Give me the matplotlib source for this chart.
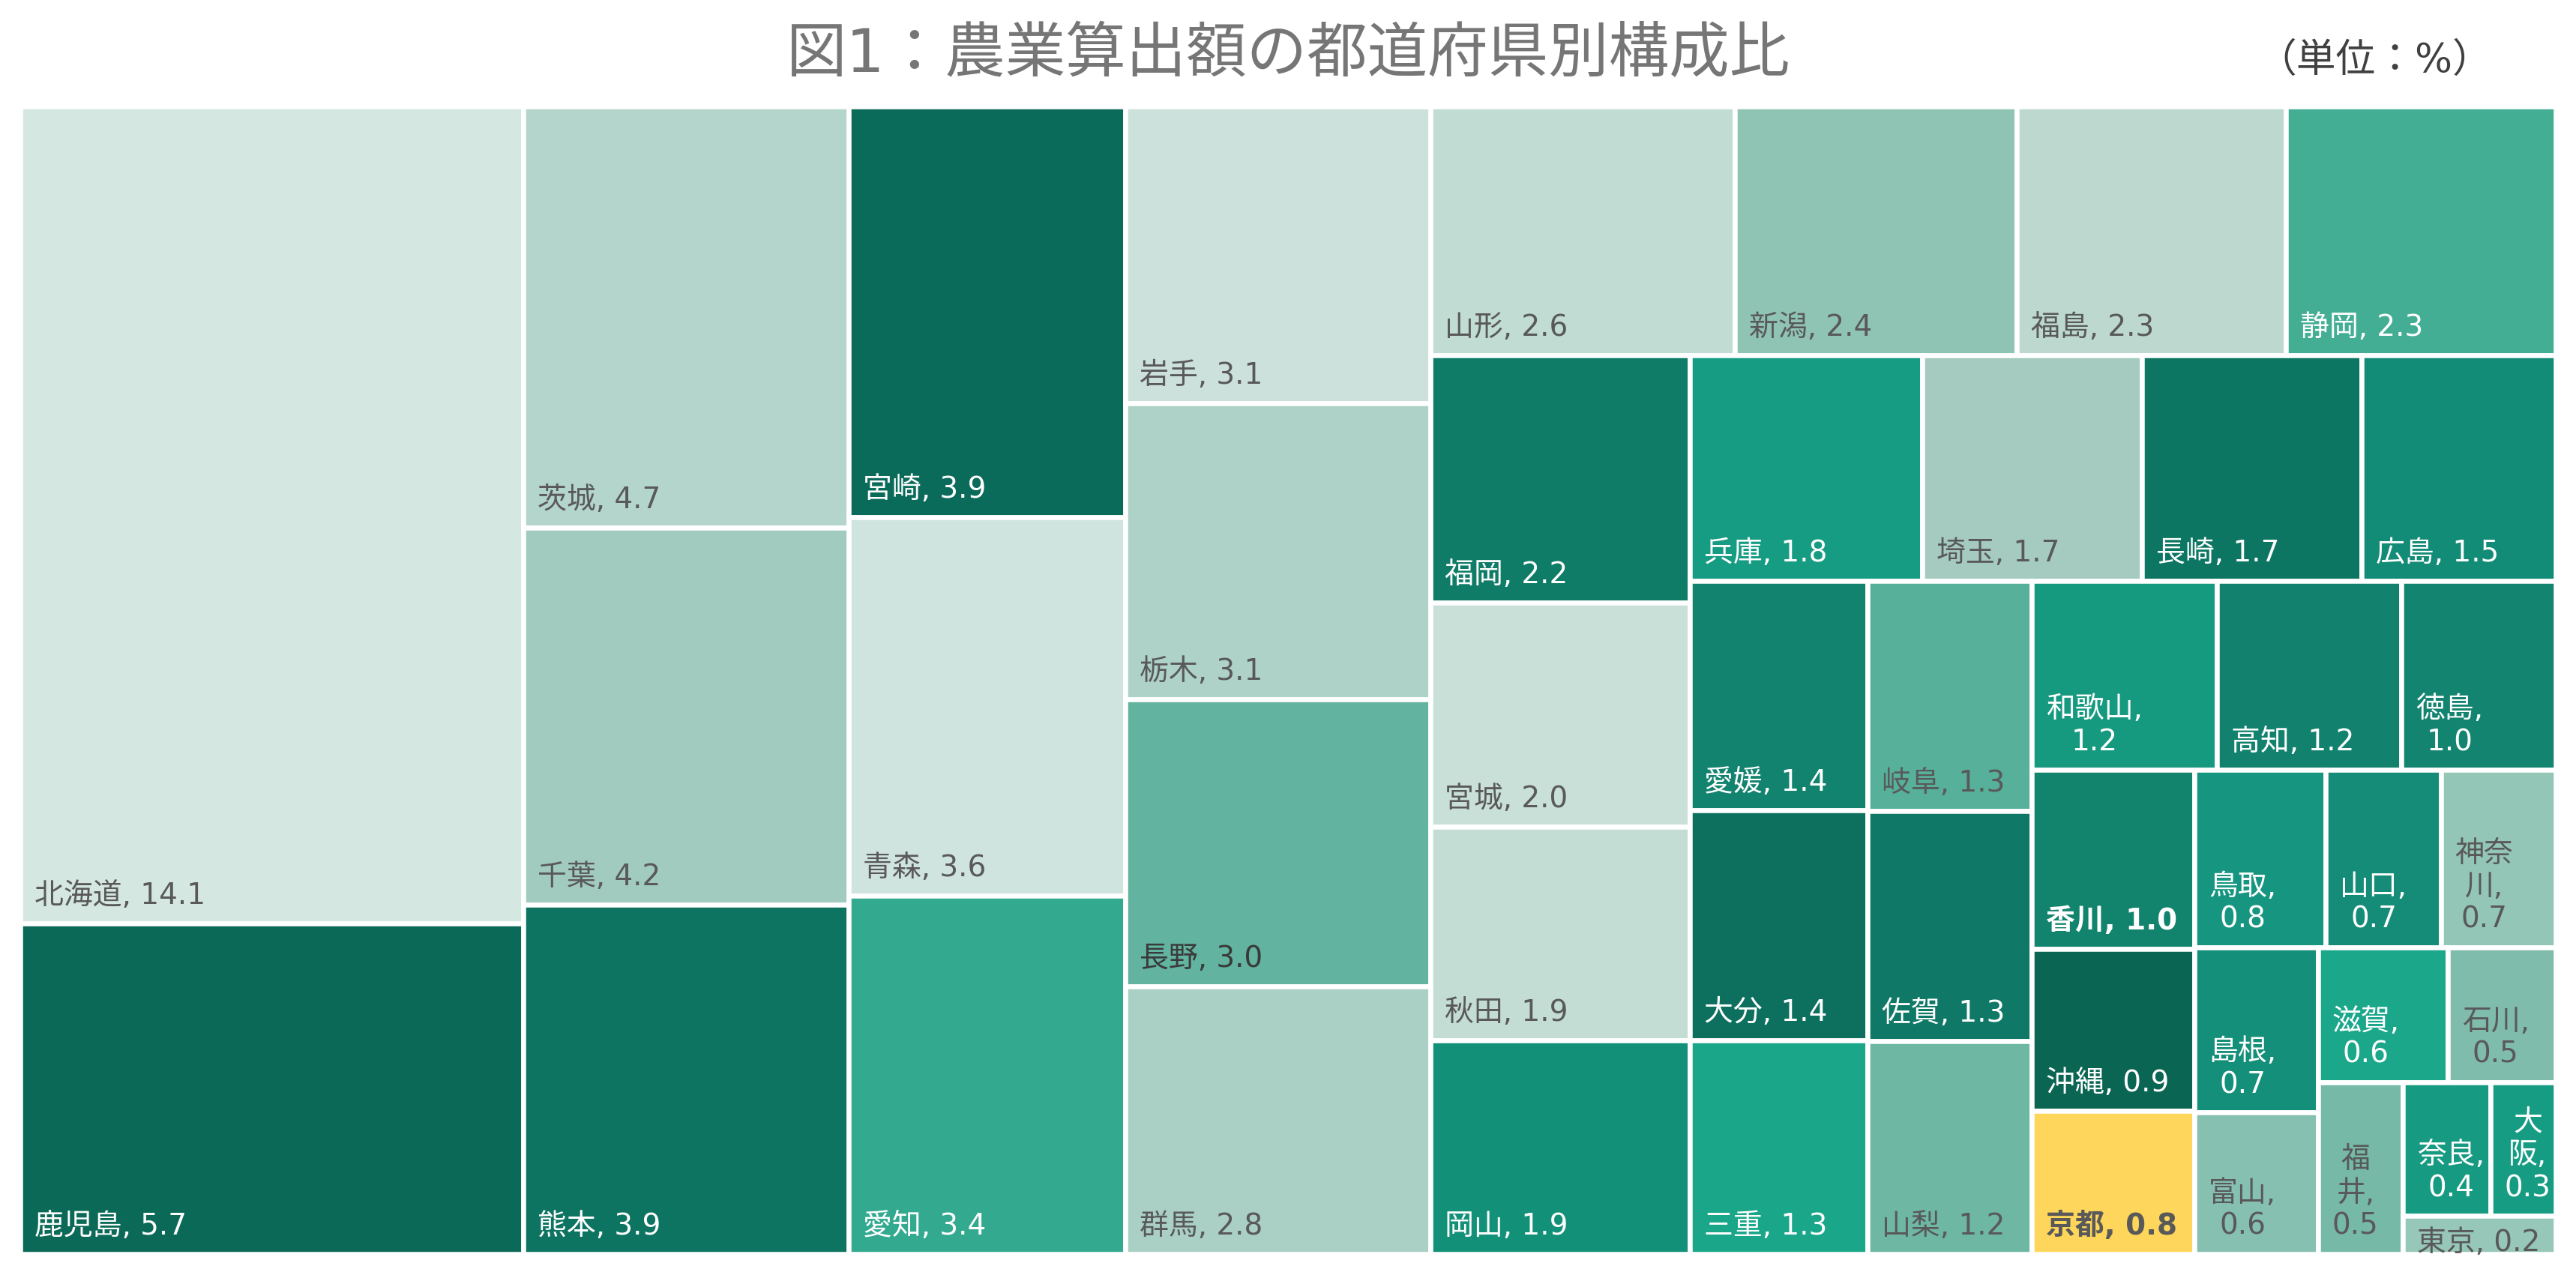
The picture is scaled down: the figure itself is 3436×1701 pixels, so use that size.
import matplotlib
matplotlib.use("Agg")
import matplotlib.pyplot as plt
from matplotlib.patches import Rectangle
from matplotlib.colors import to_rgb

plt.rcParams['font.family'] = ['DejaVu Sans', 'Noto Sans CJK JP']

# --- data (layout order, largest first)
names = ["北海道", "鹿児島", "茨城", "千葉", "熊本", "宮崎", "青森", "愛知",
         "岩手", "栃木", "長野", "群馬", "山形", "新潟", "福島", "静岡",
         "福岡", "宮城", "秋田", "岡山", "兵庫", "埼玉", "長崎", "広島",
         "愛媛", "大分", "三重", "岐阜", "佐賀", "山梨", "和歌山", "高知",
         "徳島", "香川", "沖縄", "京都", "鳥取", "山口", "神奈川", "島根",
         "富山", "滋賀", "石川", "福井", "奈良", "大阪", "東京"]
values = [14.1, 5.7, 4.7, 4.2, 3.9, 3.9, 3.6, 3.4,
          3.1, 3.1, 3.0, 2.8, 2.6, 2.4, 2.3, 2.3,
          2.2, 2.0, 1.9, 1.9, 1.8, 1.7, 1.7, 1.5,
          1.4, 1.4, 1.3, 1.3, 1.3, 1.2, 1.2, 1.2,
          1.0, 1.0, 0.9, 0.8, 0.8, 0.7, 0.7, 0.7,
          0.6, 0.6, 0.5, 0.5, 0.4, 0.3, 0.2]
colors = ["#d5e7e1", "#0b6a57", "#b4d5cc", "#a2cbc0", "#0e7462", "#0b6b5a", "#d0e4df", "#33a990",
          "#cde1dc", "#aed2c8", "#62b3a0", "#aad0c5", "#c0dcd3", "#8fc4b5", "#bcd8cf", "#44ae95",
          "#0f7c68", "#c9e0d8", "#c3ddd5", "#139178", "#169c83", "#a5cbc1", "#0d7662", "#128b77",
          "#12836e", "#0d705e", "#19a689", "#56b09a", "#0f7866", "#6db7a3", "#159a80", "#12826e",
          "#128470", "#12846e", "#0a6553", "#fdd65b", "#169681", "#148c78", "#93c6b6", "#148f79",
          "#86c0b0", "#1aa78a", "#7fbcab", "#76b9a7", "#169a81", "#179c84", "#97c7b9"]
highlight = ["香川", "京都"]
dark_text = ["長野"]

title = "図1：農業算出額の都道府県別構成比"
unit = "（単位：%）"

WIDE_PENALTY = 1.12  # Excel seems to prefer slightly tall cells


# --- squarified treemap layout
def worst(row, side, vertical):
    s = sum(row)
    thick = s / side
    out = 0
    for r in row:
        along = r / thick
        cw, ch = (thick, along) if vertical else (along, thick)
        ratio = ch / cw if ch >= cw else WIDE_PENALTY * cw / ch
        out = max(out, ratio)
    return out


def squarify(sizes, x, y, w, h):
    total = sum(sizes)
    sizes = [v * w * h / total for v in sizes]
    rects = []
    while sizes:
        vertical = w >= h
        side = min(w, h)
        row = [sizes[0]]
        i = 1
        while i < len(sizes) and worst(row + [sizes[i]], side, vertical) <= worst(row, side, vertical):
            row.append(sizes[i])
            i += 1
        sizes = sizes[i:]
        s = sum(row)
        if vertical:
            cw = s / h
            yy = y
            for r in row:
                rects.append((x, yy, cw, r / cw))
                yy += r / cw
            x += cw
            w -= cw
        else:
            rh = s / w
            xx = x
            for r in row:
                rects.append((xx, y, r / rh, rh))
                xx += r / rh
            y += rh
            h -= rh
    return rects


# --- figure
W_PX, H_PX = 3436, 1701
fig = plt.figure(figsize=(W_PX / 100, H_PX / 100), dpi=100)
left, right, top, bottom = 27, 3409, 142, 1673
ax = fig.add_axes([left / W_PX, 1 - bottom / H_PX, (right - left) / W_PX, (bottom - top) / H_PX])
AW, AH = right - left, bottom - top
ax.set_xlim(0, AW)
ax.set_ylim(AH, 0)
ax.axis("off")

renderer = fig.canvas.get_renderer()
FS = 28
LINE = 48       # px between baselines
PAD_ONE = 24    # margin for a one-line label
PAD_WRAP = 12.5  # margin when the name itself is split


def text_w(s):
    t = ax.text(0, 0, s, fontsize=FS)
    w = t.get_window_extent(renderer).width
    t.remove()
    return w


def make_label(name, val, w, h):
    full = f"{name}, {val:.1f}"
    if text_w(full) <= w - 2 * PAD_ONE or h < 2 * LINE + 30:
        return full
    avail = w - 2 * PAD_WRAP
    lines = []
    cur = ""
    for k, ch in enumerate(name):
        test = cur + ch + ("," if k == len(name) - 1 else "")
        if cur and text_w(test) > avail:
            lines.append(cur)
            cur = ch
        else:
            cur += ch
    lines.append(cur + ",")
    lines.append(f"{val:.1f}")
    return "\n".join(lines)


rects = squarify(values, 0, 0, AW, AH)
for (x, y, w, h), name, val, col in zip(rects, names, values, colors):
    patch = Rectangle((x, y), w, h, facecolor=col, edgecolor="white", linewidth=4.7)
    ax.add_patch(patch)
    r, g, b = to_rgb(col)
    bright = 255 * (0.299 * r + 0.587 * g + 0.114 * b)
    tcol = "white" if bright < 143 else "#595959"
    if name in dark_text:
        tcol = "#3a3a3a"
    weight = "bold" if name in highlight else "normal"
    label = make_label(name, val, w, h)
    nl = label.count("\n")
    base = max(y + h - 26, y + 47 + nl * LINE)
    t = ax.text(x + 19, base, label, fontsize=FS, color=tcol, fontweight=weight,
                ha="left", va="baseline", multialignment="center", linespacing=1.2)
    t.set_clip_path(patch)

fig.text(0.5, 1 - 74 / H_PX, title, fontsize=58, color="#767676", ha="center", va="center")
fig.text(3324 / W_PX, 1 - 81 / H_PX, unit, fontsize=38, color="#404040", ha="right", va="center")

fig.savefig("out.png", dpi=100, facecolor="white")
